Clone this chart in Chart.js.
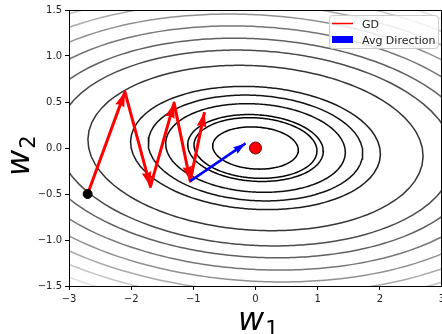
<!DOCTYPE html>
<html>
<head>
<meta charset="utf-8">
<script src="https://cdn.jsdelivr.net/npm/chart.js@4.4.0/dist/chart.umd.min.js"></script>
<style>
  html, body { margin: 0; padding: 0; background: #fff; }
  #wrap { width: 442px; height: 334px; overflow: hidden; }
</style>
</head>
<body>
<div id="wrap"><canvas id="myChart" width="449" height="334"></canvas></div>
<script>
const xTicks = [-3, -2, -1, 0, 1, 2, 3];
const yTicks = [-1.5, -1.0, -0.5, 0.0, 0.5, 1.0, 1.5];

// loss: curv1*w1^2 + 2*cross*w1*w2 + curv2*w2^2
const lossCurv1 = 1.0;
const lossCross = 0.29;
const lossCurv2 = 9.0;
const contourLevels = [0.47, 0.97, 1.18, 2.07, 2.95, 4.0, 7.2, 10.1, 12.7, 15.7, 18.9, 22.2, 25.6, 29.2, 33.0];

const gdW1 = [-2.7, -2.1, -1.69, -1.31, -1.05, -0.82];
const gdW2 = [-0.5, 0.61, -0.42, 0.49, -0.36, 0.39];

const avgW1 = [-1.05, -0.16];
const avgW2 = [-0.36, 0.05];

const startPoint = [-2.7, -0.5];
const optimum = [0, 0];

function ellipse(level) {
    const pts = [];
    for (let deg = 0; deg <= 360; deg += 2) {
        const t = deg * Math.PI / 180;
        const c = Math.cos(t), s = Math.sin(t);
        const q = lossCurv1 * c * c + 2 * lossCross * c * s + lossCurv2 * s * s;
        const r = Math.sqrt(level / q);
        pts.push({ x: r * c, y: r * s });
    }
    return pts;
}

function levelColor(level) {
    const lo = contourLevels[0];
    const hi = contourLevels[contourLevels.length - 1];
    const g = Math.round(255 * (level - lo) / (hi - lo));
    return 'rgb(' + g + ',' + g + ',' + g + ')';
}

const datasets = [];
contourLevels.forEach(level => {
    datasets.push({
        data: ellipse(level),
        showLine: true,
        borderColor: levelColor(level),
        borderWidth: 1.5,
        pointRadius: 0,
        tension: 0,
        order: 10
    });
});

datasets.push({
    data: gdW1.map((v, i) => ({ x: v, y: gdW2[i] })),
    showLine: true,
    borderColor: '#ff0000',
    borderWidth: 3,
    borderJoinStyle: 'round',
    pointRadius: 0,
    order: 5,
    arrowHeads: true
});

datasets.push({
    data: avgW1.map((v, i) => ({ x: v, y: avgW2[i] })),
    showLine: true,
    borderColor: '#0000ff',
    borderWidth: 2.5,
    pointRadius: 0,
    order: 4,
    arrowHeads: true
});

datasets.push({
    data: [{ x: startPoint[0], y: startPoint[1] }],
    pointRadius: 4.5,
    backgroundColor: '#000',
    borderColor: '#000',
    order: 2
});

datasets.push({
    data: [{ x: optimum[0], y: optimum[1] }],
    pointRadius: 6,
    backgroundColor: '#ff0000',
    borderColor: '#5a0000',
    borderWidth: 1,
    order: 1
});

function minus(s) {
    return s.replace('-', '\u2212');
}

const arrowPlugin = {
    id: 'arrows',
    afterDatasetDraw(chart, args) {
        const ds = chart.data.datasets[args.index];
        if (!ds.arrowHeads) return;
        const pts = args.meta.data;
        const ctx = chart.ctx;
        const w = ds.borderWidth;
        ctx.save();
        ctx.fillStyle = ds.borderColor;
        for (let i = 1; i < pts.length; i++) {
            const x1 = pts[i - 1].x, y1 = pts[i - 1].y;
            const x2 = pts[i].x, y2 = pts[i].y;
            const len = Math.hypot(x2 - x1, y2 - y1);
            const dx = (x2 - x1) / len, dy = (y2 - y1) / len;
            const hl = w * 5, ha = w * 4.5, hw = w * 1.6;
            ctx.beginPath();
            ctx.moveTo(x2, y2);
            ctx.lineTo(x2 - dx * hl - dy * hw, y2 - dy * hl + dx * hw);
            ctx.lineTo(x2 - dx * ha, y2 - dy * ha);
            ctx.lineTo(x2 - dx * hl + dy * hw, y2 - dy * hl - dx * hw);
            ctx.closePath();
            ctx.fill();
        }
        ctx.restore();
    }
};

function mathLabel(ctx, base, sub, x, y) {
    ctx.font = 'italic 32px "DejaVu Sans"';
    ctx.fillText(base, x, y);
    const bw = ctx.measureText(base).width;
    ctx.font = '21px "DejaVu Sans"';
    ctx.fillText(sub, x + bw + 1, y + 6);
}

const decorPlugin = {
    id: 'decor',
    afterDraw(chart) {
        const ctx = chart.ctx;
        const a = chart.chartArea;
        ctx.save();
        // frame
        ctx.strokeStyle = '#000';
        ctx.lineWidth = 1;
        ctx.strokeRect(Math.round(a.left) + 0.5, Math.round(a.top) + 0.5,
            Math.round(a.right - a.left) - 1, Math.round(a.bottom - a.top));

        // legend
        ctx.fillStyle = 'rgba(255,255,255,0.8)';
        ctx.strokeStyle = '#cccccc';
        ctx.beginPath();
        ctx.roundRect(329.5, 15.5, 109, 33, 3);
        ctx.fill();
        ctx.stroke();
        ctx.strokeStyle = '#ff0000';
        ctx.lineWidth = 1.5;
        ctx.beginPath();
        ctx.moveTo(332, 23.5);
        ctx.lineTo(353, 23.5);
        ctx.stroke();
        ctx.fillStyle = '#0000ff';
        ctx.fillRect(332, 36, 21, 7);
        ctx.fillStyle = '#222';
        ctx.font = '11px "DejaVu Sans"';
        ctx.textBaseline = 'alphabetic';
        ctx.textAlign = 'left';
        ctx.fillText('GD', 362, 27.5);
        ctx.fillText('Avg Direction', 362, 43.5);

        // axis labels
        ctx.fillStyle = '#000';
        mathLabel(ctx, 'w', '1', 238, 330);

        ctx.translate(29, 176);
        ctx.rotate(-Math.PI / 2);
        mathLabel(ctx, 'w', '2', 0, 0);
        ctx.restore();
    }
};

new Chart(document.getElementById('myChart'), {
    type: 'scatter',
    data: { datasets: datasets },
    options: {
        responsive: false,
        animation: false,
        events: [],
        layout: { padding: { top: 10, right: 1, left: 0, bottom: 0 } },
        plugins: {
            legend: { display: false },
            tooltip: { enabled: false }
        },
        scales: {
            x: {
                type: 'linear',
                min: -3,
                max: 3,
                afterBuildTicks: scale => { scale.ticks = xTicks.map(v => ({ value: v })); },
                afterFit: scale => { scale.height = 48; },
                ticks: {
                    color: '#222',
                    font: { family: 'DejaVu Sans', size: 10 },
                    padding: 3,
                    maxRotation: 0,
                    callback: v => minus(String(v))
                },
                grid: { drawOnChartArea: false, drawTicks: true, tickLength: 4, color: '#000' },
                border: { display: true, color: '#000' }
            },
            y: {
                type: 'linear',
                min: -1.5,
                max: 1.5,
                afterBuildTicks: scale => { scale.ticks = yTicks.map(v => ({ value: v })); },
                afterFit: scale => { scale.width = 69; },
                ticks: {
                    color: '#222',
                    font: { family: 'DejaVu Sans', size: 10 },
                    padding: 3,
                    callback: v => minus(Number(v).toFixed(1))
                },
                grid: { drawOnChartArea: false, drawTicks: true, tickLength: 4, color: '#000' },
                border: { display: true, color: '#000' }
            }
        }
    },
    plugins: [arrowPlugin, decorPlugin]
});
</script>
</body>
</html>
